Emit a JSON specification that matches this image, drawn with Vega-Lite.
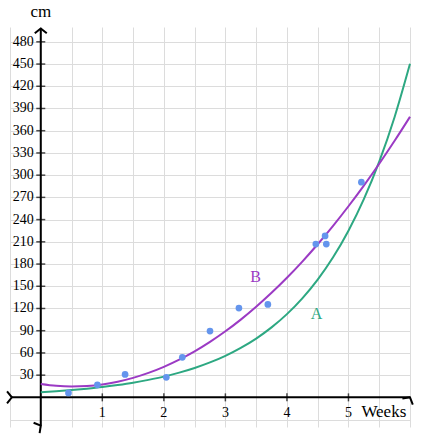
{
  "$schema": "https://vega.github.io/schema/vega-lite/v6.json",
  "width": 400,
  "height": 400,
  "autosize": {"type": "none"},
  "padding": {"left": 10, "top": 27, "right": 21, "bottom": 13},
  "background": "white",
  "datasets": {
    "curves": [
      {"x": 0, "y": 7.0, "s": "A"}, {"x": 0.25, "y": 8.3, "s": "A"}, {"x": 0.5, "y": 9.9, "s": "A"},
      {"x": 0.75, "y": 11.8, "s": "A"}, {"x": 1, "y": 14.0, "s": "A"}, {"x": 1.25, "y": 16.7, "s": "A"},
      {"x": 1.5, "y": 19.8, "s": "A"}, {"x": 1.75, "y": 23.6, "s": "A"}, {"x": 2, "y": 28.0, "s": "A"},
      {"x": 2.25, "y": 33.4, "s": "A"}, {"x": 2.5, "y": 39.7, "s": "A"}, {"x": 2.75, "y": 47.2, "s": "A"},
      {"x": 3, "y": 56.1, "s": "A"}, {"x": 3.25, "y": 66.8, "s": "A"}, {"x": 3.5, "y": 79.4, "s": "A"},
      {"x": 3.75, "y": 94.5, "s": "A"}, {"x": 4, "y": 112.4, "s": "A"}, {"x": 4.25, "y": 133.7, "s": "A"},
      {"x": 4.5, "y": 159.0, "s": "A"}, {"x": 4.75, "y": 189.1, "s": "A"}, {"x": 5, "y": 225.0, "s": "A"},
      {"x": 5.25, "y": 267.6, "s": "A"}, {"x": 5.5, "y": 318.3, "s": "A"}, {"x": 5.75, "y": 378.6, "s": "A"},
      {"x": 6, "y": 450.3, "s": "A"},
      {"x": 0, "y": 18.0, "s": "B"}, {"x": 0.25, "y": 15.6, "s": "B"}, {"x": 0.5, "y": 14.7, "s": "B"},
      {"x": 0.75, "y": 15.3, "s": "B"}, {"x": 1, "y": 17.4, "s": "B"}, {"x": 1.25, "y": 21.1, "s": "B"},
      {"x": 1.5, "y": 26.3, "s": "B"}, {"x": 1.75, "y": 33.0, "s": "B"}, {"x": 2, "y": 41.2, "s": "B"},
      {"x": 2.25, "y": 50.9, "s": "B"}, {"x": 2.5, "y": 62.1, "s": "B"}, {"x": 2.75, "y": 74.9, "s": "B"},
      {"x": 3, "y": 89.2, "s": "B"}, {"x": 3.25, "y": 105.0, "s": "B"}, {"x": 3.5, "y": 122.3, "s": "B"},
      {"x": 3.75, "y": 141.1, "s": "B"}, {"x": 4, "y": 161.4, "s": "B"}, {"x": 4.25, "y": 183.3, "s": "B"},
      {"x": 4.5, "y": 206.7, "s": "B"}, {"x": 4.75, "y": 231.6, "s": "B"}, {"x": 5, "y": 258.0, "s": "B"},
      {"x": 5.25, "y": 285.9, "s": "B"}, {"x": 5.5, "y": 315.4, "s": "B"}, {"x": 5.75, "y": 346.4, "s": "B"},
      {"x": 6, "y": 378.8, "s": "B"}
    ],
    "points": [
      {"x": 0.45, "y": 6}, {"x": 0.92, "y": 17}, {"x": 1.37, "y": 31}, {"x": 2.04, "y": 27},
      {"x": 2.3, "y": 54}, {"x": 2.75, "y": 89.5}, {"x": 3.22, "y": 120.5}, {"x": 3.69, "y": 125.5},
      {"x": 4.47, "y": 207}, {"x": 4.62, "y": 218}, {"x": 4.64, "y": 207}, {"x": 5.21, "y": 290.5}
    ],
    "xticks": [{"x": 1, "y": 0}, {"x": 2, "y": 0}, {"x": 3, "y": 0}, {"x": 4, "y": 0}, {"x": 5, "y": 0}],
    "yticks": [
      {"x": 0, "y": 30}, {"x": 0, "y": 60}, {"x": 0, "y": 90}, {"x": 0, "y": 120}, {"x": 0, "y": 150},
      {"x": 0, "y": 180}, {"x": 0, "y": 210}, {"x": 0, "y": 240}, {"x": 0, "y": 270}, {"x": 0, "y": 300},
      {"x": 0, "y": 330}, {"x": 0, "y": 360}, {"x": 0, "y": 390}, {"x": 0, "y": 420}, {"x": 0, "y": 450},
      {"x": 0, "y": 480}
    ]
  },
  "encoding": {
    "x": {
      "field": "x", "type": "quantitative",
      "scale": {"domain": [-0.5, 6], "nice": false, "zero": false},
      "axis": {
        "values": [-0.5, 0, 0.5, 1, 1.5, 2, 2.5, 3, 3.5, 4, 4.5, 5, 5.5, 6],
        "grid": true, "gridColor": "#dcdcdc", "gridWidth": 1,
        "labels": false, "ticks": false, "domain": false, "title": null
      }
    },
    "y": {
      "field": "y", "type": "quantitative",
      "scale": {"domain": [-40, 500], "nice": false, "zero": false},
      "axis": {
        "values": [-30, 0, 30, 60, 90, 120, 150, 180, 210, 240, 270, 300, 330, 360, 390, 420, 450, 480],
        "grid": true, "gridColor": "#dcdcdc", "gridWidth": 1,
        "labels": false, "ticks": false, "domain": false, "title": null
      }
    }
  },
  "layer": [
    {
      "data": {"values": [
        {"x": -0.47, "x2": 6, "y": 0, "y2": 0},
        {"x": 0, "x2": 0, "y": -38, "y2": 498}
      ]},
      "mark": {"type": "rule", "color": "black", "strokeWidth": 2},
      "encoding": {"x2": {"field": "x2"}, "y2": {"field": "y2"}}
    },
    {
      "data": {"values": [
        {"x": 0, "y": 498, "dir": "up"},
        {"x": 6, "y": 0, "dir": "right"},
        {"x": 0, "y": -38, "dir": "down"},
        {"x": -0.47, "y": 0, "dir": "left"}
      ]},
      "mark": {"type": "point", "shape": "M-1,0.8L0,0L1,0.8", "filled": false, "stroke": "black", "strokeWidth": 2, "size": 144, "opacity": 1},
      "encoding": {
        "angle": {"field": "dir", "type": "nominal", "scale": {"domain": ["up", "right", "down", "left"], "range": [0, 90, 180, 270]}, "legend": null}
      }
    },
    {
      "data": {"name": "xticks"},
      "mark": {"type": "tick", "orient": "vertical", "color": "black", "size": 8, "thickness": 1.5}
    },
    {
      "data": {"name": "yticks"},
      "mark": {"type": "tick", "orient": "horizontal", "color": "black", "size": 9, "thickness": 1.5}
    },
    {
      "data": {"name": "xticks"},
      "mark": {"type": "text", "font": "Liberation Serif, DejaVu Serif, serif", "fontSize": 14, "align": "center", "baseline": "alphabetic", "dy": 19.5, "color": "black"},
      "encoding": {"text": {"field": "x", "type": "quantitative"}}
    },
    {
      "data": {"name": "yticks"},
      "mark": {"type": "text", "font": "Liberation Serif, DejaVu Serif, serif", "fontSize": 14, "align": "right", "baseline": "middle", "dx": -7, "color": "black"},
      "encoding": {"text": {"field": "y", "type": "quantitative"}}
    },
    {
      "data": {"name": "curves"},
      "mark": {"type": "line", "strokeWidth": 2, "interpolate": "monotone"},
      "encoding": {
        "color": {"field": "s", "type": "nominal", "scale": {"domain": ["A", "B"], "range": ["#2da882", "#9b3ac4"]}, "legend": null}
      }
    },
    {
      "data": {"name": "points"},
      "mark": {"type": "circle", "size": 45, "color": "#6495ed", "opacity": 1}
    },
    {
      "data": {"values": [{"x": 4.48, "y": 112, "s": "A"}, {"x": 3.49, "y": 163, "s": "B"}]},
      "mark": {"type": "text", "font": "Liberation Serif, DejaVu Serif, serif", "fontSize": 16, "align": "center", "baseline": "middle"},
      "encoding": {
        "text": {"field": "s", "type": "nominal"},
        "color": {"field": "s", "type": "nominal", "scale": {"domain": ["A", "B"], "range": ["#2da882", "#9b3ac4"]}, "legend": null}
      }
    },
    {
      "data": {"values": [{"x": 0, "y": 513, "t": "cm"}]},
      "mark": {"type": "text", "font": "Liberation Serif, DejaVu Serif, serif", "fontSize": 17, "align": "center", "baseline": "alphabetic", "color": "black"},
      "encoding": {"text": {"field": "t", "type": "nominal"}}
    },
    {
      "data": {"values": [{"x": 5.21, "y": 0, "t": "Weeks"}]},
      "mark": {"type": "text", "font": "Liberation Serif, DejaVu Serif, serif", "fontSize": 17, "align": "left", "baseline": "alphabetic", "dy": 19.5, "color": "black"},
      "encoding": {"text": {"field": "t", "type": "nominal"}}
    }
  ],
  "config": {
    "view": {"stroke": null}
  }
}
